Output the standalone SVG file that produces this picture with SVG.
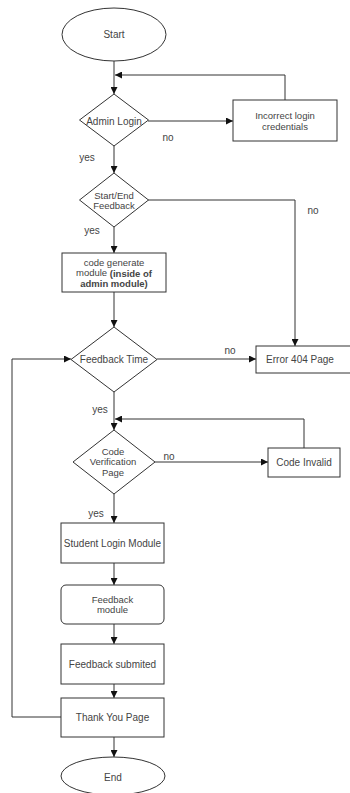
<svg xmlns="http://www.w3.org/2000/svg" width="350" height="793" viewBox="0 0 350 793">
<style>
.s{fill:#fff;stroke:#333;stroke-width:1}
.t{font-family:"Liberation Sans",Arial,sans-serif;font-size:10px;fill:#444;text-anchor:middle;dominant-baseline:central}
.m{font-size:9.5px}
.b{font-weight:bold}
.c{fill:none;stroke:#333;stroke-width:1}
.l{font-family:"Liberation Sans",Arial,sans-serif;font-size:10px;fill:#444;text-anchor:middle;dominant-baseline:central}
</style>
<defs>
<marker id="a" viewBox="0 0 10 10" refX="10" refY="5" markerWidth="7" markerHeight="7" markerUnits="userSpaceOnUse" orient="auto">
<path d="M0,0 L10,5 L0,10 Z" fill="#111"/>
</marker>
</defs>
<g id="connectors">
<path class="c" d="M114,61 V94" marker-end="url(#a)"/>
<path class="c" d="M285,100 V75 H115" marker-end="url(#a)"/>
<path class="c" d="M148,121 H233" marker-end="url(#a)"/>
<path class="c" d="M114,146 V173" marker-end="url(#a)"/>
<path class="c" d="M148,200 H295 V346" marker-end="url(#a)"/>
<path class="c" d="M114,227 V253" marker-end="url(#a)"/>
<path class="c" d="M114,292 V327" marker-end="url(#a)"/>
<path class="c" d="M157,359 H256" marker-end="url(#a)"/>
<path class="c" d="M114,392 V430" marker-end="url(#a)"/>
<path class="c" d="M304,448 V419 H115" marker-end="url(#a)"/>
<path class="c" d="M155,462 H268" marker-end="url(#a)"/>
<path class="c" d="M114,494 V523" marker-end="url(#a)"/>
<path class="c" d="M114,563 V585" marker-end="url(#a)"/>
<path class="c" d="M114,624 V644" marker-end="url(#a)"/>
<path class="c" d="M114,684 V698" marker-end="url(#a)"/>
<path class="c" d="M114,737 V757" marker-end="url(#a)"/>
<path class="c" d="M61,717 H12 V359 H71" marker-end="url(#a)"/>
<text class="l" x="168" y="137">no</text>
<text class="l" x="87" y="157">yes</text>
<text class="l" x="313" y="210">no</text>
<text class="l" x="92" y="230">yes</text>
<text class="l" x="230" y="350">no</text>
<text class="l" x="100" y="409">yes</text>
<text class="l" x="169" y="456">no</text>
<text class="l" x="96" y="513">yes</text>
</g>
<g id="start"><ellipse class="s" cx="114" cy="34.5" rx="52" ry="26.5"/><text class="t" x="114" y="34">Start</text></g>
<g id="admin-login"><path class="s" d="M114,94 L148.5,120 L114,146 L79.5,120 Z"/><text class="t" x="114" y="121">Admin Login</text></g>
<g id="incorrect"><rect class="s" x="233" y="100" width="104" height="41"/><text class="t m" x="285" y="115.5">Incorrect login</text><text class="t m" x="285" y="126">credentials</text></g>
<g id="start-end"><path class="s" d="M114,173 L148.5,200 L114,227 L79.5,200 Z"/><text class="t m" x="114" y="195">Start/End</text><text class="t m" x="114" y="205.5">Feedback</text></g>
<g id="code-generate"><rect class="s" x="62" y="253" width="104" height="39"/><text class="t m" x="114" y="262">code generate</text><text class="t m" x="114" y="272.5">module <tspan class="b">(inside of</tspan></text><text class="t m b" x="114" y="283">admin module)</text></g>
<g id="feedback-time"><path class="s" d="M114,327 L157,359.5 L114,392 L71,359.5 Z"/><text class="t" x="114" y="359">Feedback Time</text></g>
<g id="error404"><rect class="s" x="256" y="346" width="100" height="27"/><text class="t" x="300" y="359">Error 404 Page</text></g>
<g id="code-verification"><path class="s" d="M114,430 L155,462 L114,494 L73,462 Z"/><text class="t m" x="113" y="451">Code</text><text class="t m" x="113" y="461.5">Verification</text><text class="t m" x="113" y="472">Page</text></g>
<g id="code-invalid"><rect class="s" x="268" y="448" width="72" height="29"/><text class="t" x="304" y="462">Code Invalid</text></g>
<g id="student-login"><rect class="s" x="61" y="523" width="103" height="40"/><text class="t" x="112.5" y="543">Student Login Module</text></g>
<g id="feedback-module"><rect class="s" x="61" y="585" width="103" height="39" rx="5"/><text class="t m" x="112.5" y="599">Feedback</text><text class="t m" x="112.5" y="609.5">module</text></g>
<g id="feedback-submitted"><rect class="s" x="61" y="644" width="103" height="40"/><text class="t" x="112.5" y="664">Feedback submited</text></g>
<g id="thank-you"><rect class="s" x="61" y="698" width="103" height="39"/><text class="t" x="112.5" y="717">Thank You Page</text></g>
<g id="end"><ellipse class="s" cx="113" cy="776" rx="52" ry="19"/><text class="t" x="113" y="777">End</text></g>
</svg>
